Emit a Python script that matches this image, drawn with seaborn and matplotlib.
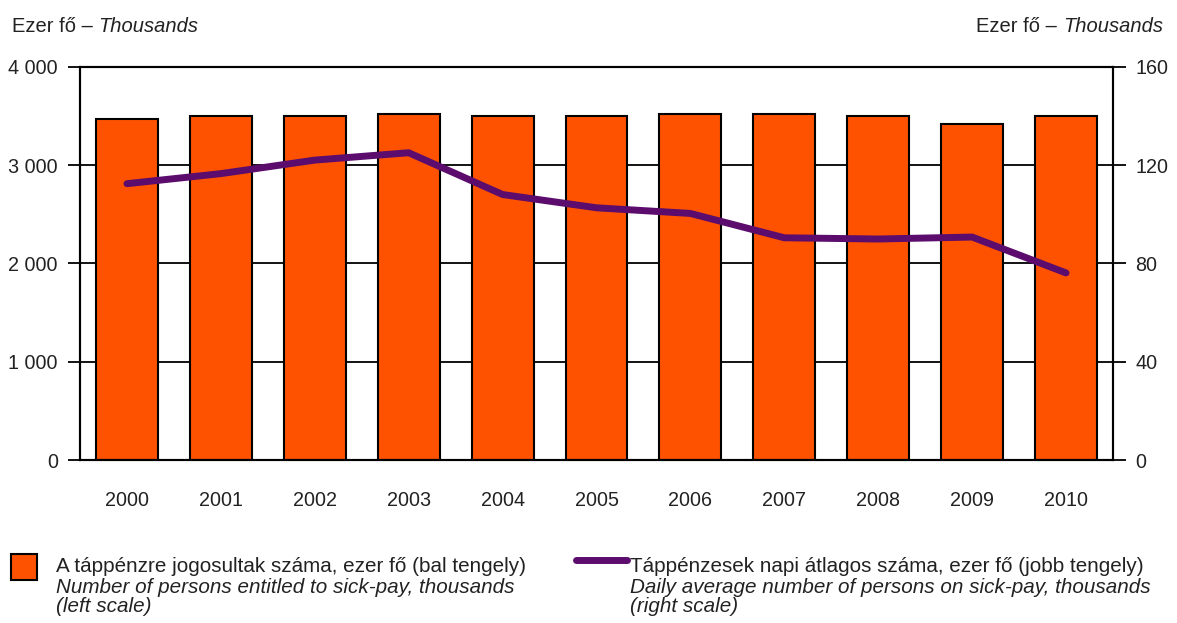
import numpy as np
import matplotlib
matplotlib.use("Agg")
import matplotlib.pyplot as plt
import seaborn as sns
from matplotlib.patches import Rectangle
from matplotlib.lines import Line2D

# data
years = ["2000", "2001", "2002", "2003", "2004", "2005", "2006", "2007", "2008", "2009", "2010"]
entitled = [3471, 3494, 3494, 3522, 3494, 3494, 3522, 3522, 3494, 3420, 3494]   # left axis, thousands
on_sickpay = [112.4, 116.5, 122.0, 125.0, 108.0, 102.6, 100.3, 90.4, 89.9, 90.7, 76.1]  # right axis

left_ticks = [0, 1000, 2000, 3000, 4000]
left_labels = ["0", "1 000", "2 000", "3 000", "4 000"]
right_ticks = [0, 40, 80, 120, 160]

bar_color = "#FF5200"
line_color = "#5C0C6C"

sns.set_theme(style="white")
plt.rcParams["font.family"] = ["Liberation Sans", "DejaVu Sans"]
fs = 14.5    # unit labels
lfs = 14.9   # legend text
tfs = 14.2   # tick labels

fig = plt.figure(figsize=(11.77, 6.23), dpi=100)
ax = fig.add_axes([80/1177, 1-460/623, (1113-80)/1177, (460-66.7)/623])

sns.barplot(x=years, y=entitled, color=bar_color, edgecolor="black", linewidth=1.5,
            width=0.66, saturation=1, ax=ax, zorder=2)
ax.set_ylim(0, 4000)
ax.set_yticks(left_ticks)
ax.set_yticklabels(left_labels)
ax.yaxis.grid(True, color="black", linewidth=1.3)
ax.set_axisbelow(True)
ax.set_xlabel("")
ax.set_ylabel("")

ax2 = ax.twinx()
sns.lineplot(x=np.arange(len(years)), y=on_sickpay, color=line_color, linewidth=5,
             ax=ax2, legend=False)
ax2.set_ylim(0, 160)
ax2.set_yticks(right_ticks)
ax2.grid(False)
ax2.set_ylabel("")
ax.set_xlim(-0.5, len(years) - 0.5)

for a in (ax, ax2):
    for s in a.spines.values():
        s.set_color("black")
        s.set_linewidth(1.5)
        s.set_visible(True)
ax.tick_params(axis="y", direction="out", length=9, width=1.3, color="black",
               labelsize=tfs, pad=7, left=True)
ax.tick_params(axis="x", length=0, labelsize=tfs, pad=22)
ax2.tick_params(axis="y", direction="out", length=9, width=1.3, color="black",
                labelsize=tfs, pad=7, right=True)
for lab in ax.get_yticklabels() + ax2.get_yticklabels() + ax.get_xticklabels():
    lab.set_color("#222222")

# unit labels
t1 = fig.text(12/1177, 1-27/623, "Ezer fő – ", fontsize=fs, va="center", ha="left", color="#222222")
ax.annotate("Thousands", xy=(1, 0.5), xycoords=t1, va="center", ha="left",
            fontsize=fs, style="italic", color="#222222")
t2 = fig.text(1163/1177, 1-27/623, "Thousands", fontsize=fs, va="center", ha="right",
              style="italic", color="#222222")
ax.annotate("Ezer fő – ", xy=(0, 0.5), xycoords=t2, va="center", ha="right",
            fontsize=fs, color="#222222")

# legend
fig.patches.append(Rectangle((11/1177, 1-580/623), 26/1177, 26/623, transform=fig.transFigure,
                             facecolor=bar_color, edgecolor="black", linewidth=1.5))
fig.lines.append(Line2D([576/1177, 627/1177], [1-560/623, 1-560/623], transform=fig.transFigure,
                        color=line_color, linewidth=5))
fig.text(56/1177, 1-567/623, "A táppénzre jogosultak száma, ezer fő (bal tengely)",
         fontsize=lfs, va="center", color="#222222")
fig.text(56/1177, 1-578/623, "Number of persons entitled to sick-pay, thousands\n(left scale)",
         fontsize=lfs, va="top", style="italic", color="#222222", linespacing=1.02)
fig.text(630/1177, 1-567/623, "Táppénzesek napi átlagos száma, ezer fő (jobb tengely)",
         fontsize=lfs, va="center", color="#222222")
fig.text(630/1177, 1-578/623, "Daily average number of persons on sick-pay, thousands\n(right scale)",
         fontsize=lfs, va="top", style="italic", color="#222222", linespacing=1.02)

fig.savefig("out.png", dpi=100)
